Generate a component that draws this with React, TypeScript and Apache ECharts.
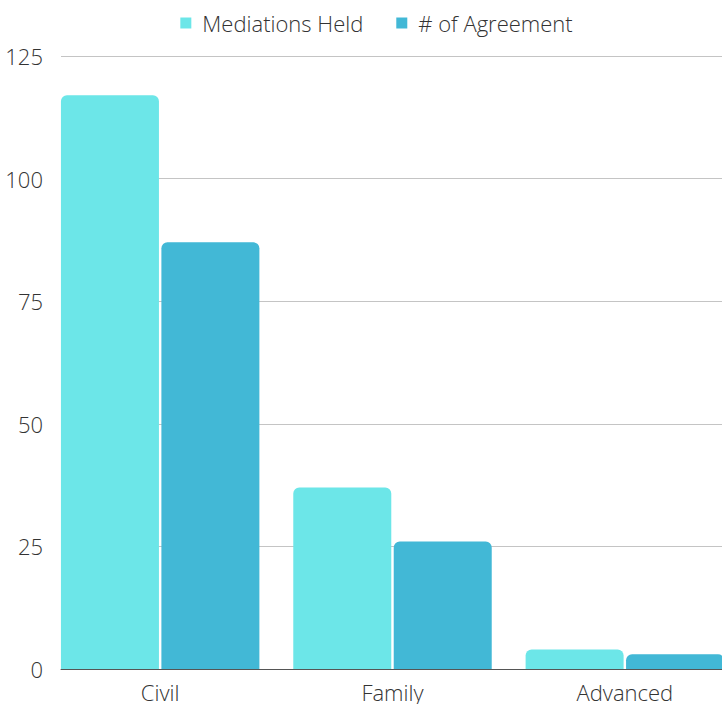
import React, { useEffect, useRef } from "react";
import * as echarts from "echarts";

const categories = ["Civil", "Family", "Advanced"];
const mediationsHeld = [117, 37, 4];
const agreements = [87, 26, 3];
const yTicks = { min: 0, max: 125, interval: 25 };

const FONT = "'Open Sans', sans-serif";

export default function App() {
  const ref = useRef<HTMLDivElement>(null);
  useEffect(() => {
    document.body.style.margin = "0";
    document.body.style.overflow = "hidden";
    if (!ref.current) return;
    const chart = echarts.init(ref.current, null, { renderer: "svg" });
    chart.setOption({
      animation: false,
      legend: {
        top: 7,
        left: "center",
        itemWidth: 11,
        itemHeight: 11,
        itemGap: 33,
        icon: "rect",
        textStyle: { fontFamily: FONT, fontSize: 22, fontWeight: 300, color: "#333", padding: [0, 0, 0, 6] },
        data: ["Mediations Held", "# of Agreement"],
      },
      grid: [
        { left: 61, right: 0, top: 56, bottom: 35, containLabel: false },
        { left: 44, right: 12, top: 56, bottom: 35, containLabel: false },
      ],
      xAxis: [
        {
          gridIndex: 0,
          type: "value",
          min: 0,
          max: 1,
          axisLabel: { show: false },
          axisTick: { show: false },
          splitLine: { show: false },
          axisLine: { show: true, lineStyle: { color: "#555", width: 1 } },
        },
        {
          gridIndex: 1,
          type: "category",
          data: categories,
          axisLine: { show: false },
          axisTick: { show: false },
          axisLabel: { fontFamily: FONT, fontSize: 22, fontWeight: 300, color: "#333", margin: 13, lineHeight: 20 },
        },
      ],
      yAxis: [
        {
          gridIndex: 0,
          type: "value",
          ...yTicks,
          axisLine: { show: false },
          axisTick: { show: false },
          axisLabel: { fontFamily: FONT, fontSize: 22, fontWeight: 300, color: "#333", margin: 18 },
          splitLine: { show: true, lineStyle: { color: "#c4c4c4", width: 1 } },
        },
        {
          gridIndex: 1,
          type: "value",
          ...yTicks,
          show: false,
          splitLine: { show: false },
        },
      ],
      series: [
        {
          name: "Mediations Held",
          type: "bar",
          xAxisIndex: 1,
          yAxisIndex: 1,
          data: mediationsHeld,
          barWidth: 98,
          barGap: "2.5%",
          itemStyle: { color: "#6ce6e8", borderRadius: [6, 6, 0, 0] },
        },
        {
          name: "# of Agreement",
          type: "bar",
          xAxisIndex: 1,
          yAxisIndex: 1,
          data: agreements,
          barWidth: 98,
          barGap: "2.5%",
          itemStyle: { color: "#42b8d6", borderRadius: [6, 6, 0, 0] },
        },
      ],
    });
    return () => chart.dispose();
  }, []);
  return <div ref={ref} style={{ width: 753, height: 704 }} />;
}
